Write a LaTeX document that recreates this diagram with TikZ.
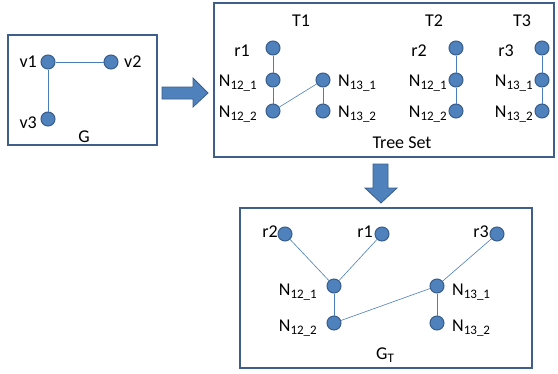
\documentclass[tikz,border=0pt]{standalone}
\usepackage{fontspec}
\setmainfont{Carlito}
\definecolor{nodefill}{HTML}{4F81BD}
\definecolor{nodeborder}{HTML}{385D8A}
\definecolor{edgecol}{HTML}{4A7EBB}
\definecolor{boxcol}{HTML}{3F5F8A}
\newcommand{\mysub}[1]{\raisebox{-0.35ex}{\fontsize{13}{15}\selectfont #1}}
\begin{document}
\begin{tikzpicture}[x=1pt,y=-1pt,
  vtx/.style={circle,fill=nodefill,draw=nodeborder,line width=1pt,minimum size=14pt,inner sep=0pt},
  edge/.style={draw=edgecol,line width=0.9pt},
  frame/.style={draw=boxcol,line width=1.6pt},
  lbl/.style={inner sep=0pt,font=\fontsize{18}{21}\selectfont},
  blockarrow/.style={fill=nodefill,draw=nodeborder,line width=0.8pt}]
\useasboundingbox (0,0) rectangle (558,373);
% frames
\draw[frame] (8,35) rectangle (157,145);
\draw[frame] (214,3) rectangle (554,157);
\draw[frame] (240,208) rectangle (532,368);
% block arrows
\draw[blockarrow] (162,87) -- (193,87) -- (193,78) -- (208,93) -- (193,107) -- (193,99) -- (162,99) -- cycle;
\draw[blockarrow] (373,164) -- (388,164) -- (388,188) -- (397,188) -- (381,203) -- (365,188) -- (373,188) -- cycle;
% G
\node[vtx] (v1) at (48,62) {};
\node[vtx] (v2) at (111,62) {};
\node[vtx] (v3) at (48,119) {};
\draw[edge] (v1) -- (v2);
\draw[edge] (v1) -- (v3);
\node[lbl,anchor=base east] (lv1) at (37,67) {v1};
\node[lbl,anchor=base west] (lv2) at (124,67) {v2};
\node[lbl,anchor=base east] (lv3) at (37,128) {v3};
\node[lbl,anchor=base] (lG) at (84,142) {G};
% Tree set
\node[lbl,anchor=base] (lT1) at (301,26) {T1};
\node[lbl,anchor=base] (lT2) at (434,26) {T2};
\node[lbl,anchor=base] (lT3) at (522,26) {T3};
\node[lbl,anchor=base] (lTS) at (402,148) {Tree Set};
% T1
\node[vtx] (ar1) at (273,48) {};
\node[vtx] (a121) at (273,80) {};
\node[vtx] (a122) at (273,111) {};
\node[vtx] (a131) at (323,80) {};
\node[vtx] (a132) at (323,111) {};
\draw[edge] (ar1) -- (a121) -- (a122);
\draw[edge] (a131) -- (a132);
\draw[edge,line width=0.6pt] (a122) -- (a131);
\node[lbl,anchor=base east] (lar1) at (250,56) {r1};
\node[lbl,anchor=base east] (la121) at (257,86) {N\mysub{12\_1}};
\node[lbl,anchor=base east] (la122) at (257,117) {N\mysub{12\_2}};
\node[lbl,anchor=base west] (la131) at (338,86) {N\mysub{13\_1}};
\node[lbl,anchor=base west] (la132) at (338,117) {N\mysub{13\_2}};
% T2
\node[vtx] (br2) at (456,48) {};
\node[vtx] (b121) at (456,80) {};
\node[vtx] (b122) at (456,111) {};
\draw[edge] (br2) -- (b121) -- (b122);
\node[lbl,anchor=base east] (lbr2) at (427,56) {r2};
\node[lbl,anchor=base east] (lb121) at (447,86) {N\mysub{12\_1}};
\node[lbl,anchor=base east] (lb122) at (447,117) {N\mysub{12\_2}};
% T3
\node[vtx] (cr3) at (542,48) {};
\node[vtx] (c131) at (542,80) {};
\node[vtx] (c132) at (542,111) {};
\draw[edge] (cr3) -- (c131) -- (c132);
\node[lbl,anchor=base east] (lcr3) at (514,56) {r3};
\node[lbl,anchor=base east] (lc131) at (533,86) {N\mysub{13\_1}};
\node[lbl,anchor=base east] (lc132) at (533,117) {N\mysub{13\_2}};
% G_T
\node[vtx] (dr2) at (285,234) {};
\node[vtx] (dr1) at (382,234) {};
\node[vtx] (dr3) at (497,234) {};
\node[vtx] (d121) at (334,286) {};
\node[vtx] (d122) at (334,323) {};
\node[vtx] (d131) at (437,286) {};
\node[vtx] (d132) at (437,323) {};
\draw[edge,line width=0.6pt] (dr2) -- (d121);
\draw[edge,line width=0.6pt] (dr1) -- (d121);
\draw[edge,line width=0.6pt] (dr3) -- (d131);
\draw[edge,line width=0.6pt] (d122) -- (d131);
\draw[edge] (d121) -- (d122);
\draw[edge] (d131) -- (d132);
\node[lbl,anchor=base east] (ldr2) at (278,237) {r2};
\node[lbl,anchor=base east] (ldr1) at (373,237) {r1};
\node[lbl,anchor=base east] (ldr3) at (489,237) {r3};
\node[lbl,anchor=base east] (ld121) at (317,295) {N\mysub{12\_1}};
\node[lbl,anchor=base east] (ld122) at (317,331) {N\mysub{12\_2}};
\node[lbl,anchor=base west] (ld131) at (452,295) {N\mysub{13\_1}};
\node[lbl,anchor=base west] (ld132) at (452,331) {N\mysub{13\_2}};
\node[lbl,anchor=base] (lGT) at (385,359) {G\mysub{T}};
\end{tikzpicture}
\end{document}
